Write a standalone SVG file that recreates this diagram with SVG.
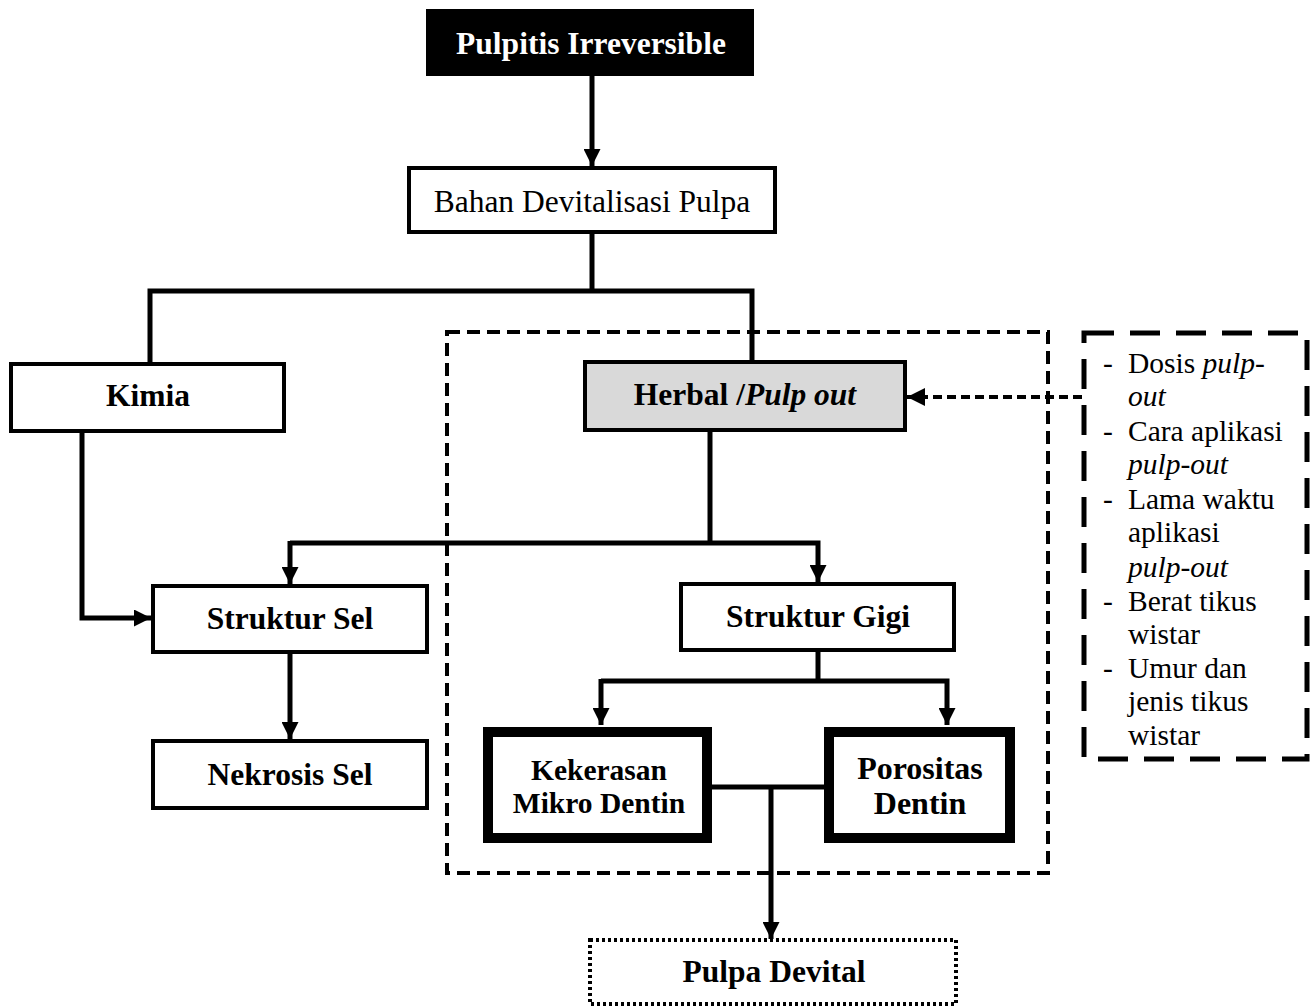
<svg xmlns="http://www.w3.org/2000/svg" width="1315" height="1006" viewBox="0 0 1315 1006">
<style>
.box{fill:#fff;stroke:#000;stroke-width:4}
.thick{fill:#fff;stroke:#000;stroke-width:10}
.ln{fill:none;stroke:#000;stroke-width:5}
.t{font-family:"Liberation Serif","Times New Roman",serif;text-anchor:middle}
.b{font-weight:bold}
.r{font-family:"Liberation Serif","Times New Roman",serif;font-size:29.5px}
</style>
<defs>
<marker id="ah" viewBox="0 0 10 10" refX="10" refY="5" markerWidth="3.6" markerHeight="3.4" markerUnits="strokeWidth" orient="auto">
<path d="M0,0 L10,5 L0,10 z" fill="#000"/>
</marker>
<marker id="ah2" viewBox="0 0 10 10" refX="10" refY="5" markerWidth="4.5" markerHeight="4.5" markerUnits="strokeWidth" orient="auto">
<path d="M0,0 L10,5 L0,10 z" fill="#000"/>
</marker>
</defs>
<g id="group-herbal">
<rect x="447" y="332" width="601" height="541" fill="none" stroke="#000" stroke-width="4" stroke-dasharray="13,7"/>
</g>
<g id="connectors">
<line class="ln" x1="592" y1="75" x2="592" y2="166" marker-end="url(#ah)"/>
<polyline class="ln" points="592,232 592,291"/>
<polyline class="ln" points="150,364 150,291 752,291 752,362"/>
<polyline class="ln" points="82,431 82,618 151,618" marker-end="url(#ah)"/>
<polyline class="ln" points="710,430 710,543"/>
<polyline class="ln" points="290,543 818,543 818,582" marker-end="url(#ah)"/>
<line class="ln" x1="290" y1="541" x2="290" y2="584" marker-end="url(#ah)"/>
<line class="ln" x1="290" y1="652" x2="290" y2="739" marker-end="url(#ah)"/>
<polyline class="ln" points="818,650 818,681"/>
<polyline class="ln" points="601,681 947,681 947,725" marker-end="url(#ah)"/>
<line class="ln" x1="601" y1="679" x2="601" y2="725" marker-end="url(#ah)"/>
<line class="ln" x1="712" y1="787" x2="824" y2="787"/>
<line class="ln" x1="771" y1="787" x2="771" y2="939" marker-end="url(#ah)"/>
<line x1="1082" y1="397" x2="907" y2="397" stroke="#000" stroke-width="4" stroke-dasharray="9,5" marker-end="url(#ah2)"/>
</g>
<g id="pulpitis">
<rect x="427" y="10" width="326" height="65" fill="#000" stroke="#000" stroke-width="2"/>
<text class="t b" x="591" y="54" font-size="31.5" fill="#fff">Pulpitis Irreversible</text>
</g>
<g id="bahan">
<rect class="box" x="409" y="168" width="366" height="64"/>
<text class="t" x="592" y="212" font-size="31.5">Bahan Devitalisasi Pulpa</text>
</g>
<g id="kimia">
<rect class="box" x="11" y="364" width="273" height="67"/>
<text class="t b" x="148" y="406" font-size="31.5">Kimia</text>
</g>
<g id="herbal">
<rect x="585" y="362" width="320" height="68" fill="#d9d9d9" stroke="#000" stroke-width="4"/>
<text class="t b" x="745" y="405" font-size="31.5">Herbal /<tspan font-style="italic">Pulp out</tspan></text>
</g>
<g id="struktur-sel">
<rect class="box" x="153" y="586" width="274" height="66"/>
<text class="t b" x="290" y="629" font-size="31.5">Struktur Sel</text>
</g>
<g id="nekrosis">
<rect class="box" x="153" y="741" width="274" height="67"/>
<text class="t b" x="290" y="785" font-size="31.5">Nekrosis Sel</text>
</g>
<g id="struktur-gigi">
<rect class="box" x="681" y="584" width="273" height="66"/>
<text class="t b" x="818" y="627" font-size="31.5">Struktur Gigi</text>
</g>
<g id="kekerasan">
<rect class="thick" x="488" y="732" width="219" height="106"/>
<text class="t b" x="599" y="780" font-size="29.5">Kekerasan</text>
<text class="t b" x="599" y="813" font-size="29.5">Mikro Dentin</text>
</g>
<g id="porositas">
<rect class="thick" x="829" y="732" width="181" height="106"/>
<text class="t b" x="920" y="779" font-size="32">Porositas</text>
<text class="t b" x="920" y="814" font-size="32">Dentin</text>
</g>
<g id="pulpa-devital">
<rect x="590" y="940" width="366" height="64" fill="#fff" stroke="#000" stroke-width="4" stroke-dasharray="3,3"/>
<text class="t b" x="774" y="982" font-size="31.5">Pulpa Devital</text>
</g>
<g id="variabel">
<rect x="1084" y="333" width="223" height="426" fill="#fff" stroke="#000" stroke-width="5" stroke-dasharray="30,16"/>
<g class="r">
<text x="1103" y="373">-</text><text x="1128" y="373">Dosis <tspan font-style="italic">pulp-</tspan></text>
<text x="1128" y="406" font-style="italic">out</text>
<text x="1103" y="441">-</text><text x="1128" y="441">Cara aplikasi</text>
<text x="1128" y="474" font-style="italic">pulp-out</text>
<text x="1103" y="509">-</text><text x="1128" y="509">Lama waktu</text>
<text x="1128" y="542">aplikasi</text>
<text x="1128" y="577" font-style="italic">pulp-out</text>
<text x="1103" y="611">-</text><text x="1128" y="611">Berat tikus</text>
<text x="1128" y="644">wistar</text>
<text x="1103" y="678">-</text><text x="1128" y="678">Umur dan</text>
<text x="1128" y="711">jenis tikus</text>
<text x="1128" y="745">wistar</text>
</g>
</g>
</svg>
